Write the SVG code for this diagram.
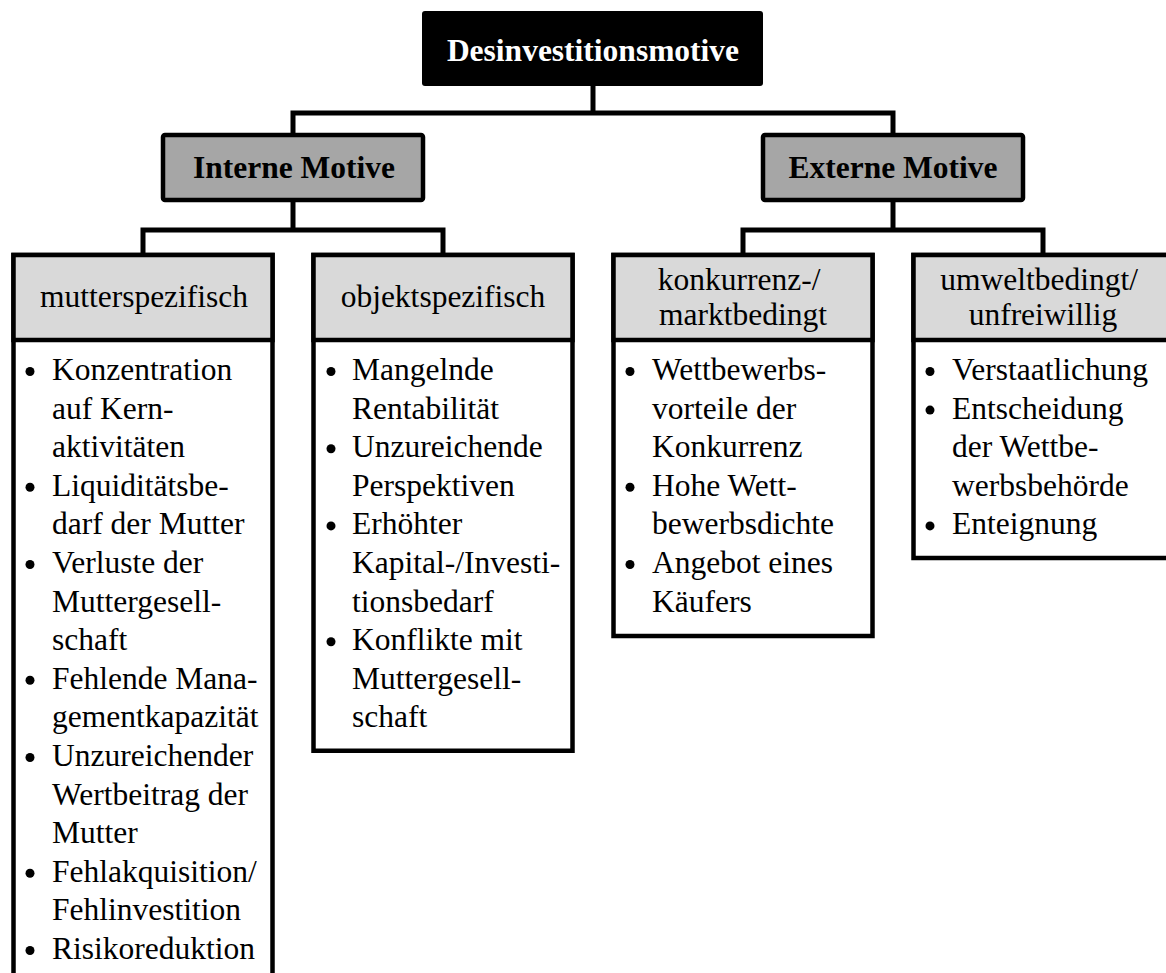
<svg xmlns="http://www.w3.org/2000/svg" width="1166" height="973" viewBox="0 0 1166 973">
  <style>
    .edge { fill: none; stroke: #000; stroke-width: 5; stroke-linejoin: miter; }
    .root { fill: #000; }
    .mid { fill: #a6a6a6; stroke: #000; stroke-width: 4.5; }
    .head { fill: #d9d9d9; stroke: #000; stroke-width: 4.5; }
    .body { fill: #fff; stroke: #000; stroke-width: 4.5; }
    .bold { font-family: "Liberation Serif", "Times New Roman", serif; font-weight: bold; font-size: 31.5px; text-anchor: middle; }
    .txt { font-family: "Liberation Serif", "Times New Roman", serif; font-size: 31.5px; fill: #000; }
    .ctr { text-anchor: middle; }
    .dot { fill: #000; }
  </style>
  <rect width="1166" height="973" fill="#fff"/>

  <!-- connectors -->
  <g id="connectors">
    <path class="edge" d="M593 86 V113"/>
    <path class="edge" d="M293 133 V113 H893 V133"/>
    <path class="edge" d="M293 202 V230"/>
    <path class="edge" d="M143 253 V230 H443 V253"/>
    <path class="edge" d="M893 202 V230"/>
    <path class="edge" d="M743 253 V230 H1043 V253"/>
  </g>

  <!-- root -->
  <g id="node-root">
    <rect class="root" x="422" y="11" width="341" height="75" rx="3"/>
    <text class="bold" x="593" y="61" fill="#fff">Desinvestitionsmotive</text>
  </g>

  <!-- second level -->
  <g id="node-intern">
    <rect class="mid" x="163" y="135" width="260" height="65" rx="2"/>
    <text class="bold" x="294" y="178" fill="#000">Interne Motive</text>
  </g>
  <g id="node-extern">
    <rect class="mid" x="763" y="135" width="260" height="65" rx="2"/>
    <text class="bold" x="893" y="178" fill="#000">Externe Motive</text>
  </g>

  <!-- mutterspezifisch -->
  <g id="node-mutter">
    <rect class="body" x="13.5" y="255" width="259" height="760"/>
    <rect class="head" x="13.5" y="255" width="259" height="85"/>
    <text class="txt ctr" x="144" y="307">mutterspezifisch</text>
    <g class="dot">
      <circle cx="30" cy="371.5" r="4.5"/>
      <circle cx="30" cy="487.3" r="4.5"/>
      <circle cx="30" cy="564.5" r="4.5"/>
      <circle cx="30" cy="680.3" r="4.5"/>
      <circle cx="30" cy="757.5" r="4.5"/>
      <circle cx="30" cy="873.3" r="4.5"/>
      <circle cx="30" cy="950.5" r="4.5"/>
    </g>
    <text class="txt">
      <tspan x="52" y="380">Konzentration</tspan>
      <tspan x="52" y="418.6">auf Kern-</tspan>
      <tspan x="52" y="457.2">aktivitäten</tspan>
      <tspan x="52" y="495.8">Liquiditätsbe-</tspan>
      <tspan x="52" y="534.4">darf der Mutter</tspan>
      <tspan x="52" y="573">Verluste der</tspan>
      <tspan x="52" y="611.6">Muttergesell-</tspan>
      <tspan x="52" y="650.2">schaft</tspan>
      <tspan x="52" y="688.8">Fehlende Mana-</tspan>
      <tspan x="52" y="727.4">gementkapazität</tspan>
      <tspan x="52" y="766">Unzureichender</tspan>
      <tspan x="52" y="804.6">Wertbeitrag der</tspan>
      <tspan x="52" y="843.2">Mutter</tspan>
      <tspan x="52" y="881.8">Fehlakquisition/</tspan>
      <tspan x="52" y="920.4">Fehlinvestition</tspan>
      <tspan x="52" y="959">Risikoreduktion</tspan>
    </text>
  </g>

  <!-- objektspezifisch -->
  <g id="node-objekt">
    <rect class="body" x="313.5" y="255" width="259" height="495.75"/>
    <rect class="head" x="313.5" y="255" width="259" height="85"/>
    <text class="txt ctr" x="443" y="307">objektspezifisch</text>
    <g class="dot">
      <circle cx="331" cy="371.5" r="4.5"/>
      <circle cx="331" cy="448.7" r="4.5"/>
      <circle cx="331" cy="525.9" r="4.5"/>
      <circle cx="331" cy="641.7" r="4.5"/>
    </g>
    <text class="txt">
      <tspan x="352" y="380">Mangelnde</tspan>
      <tspan x="352" y="418.6">Rentabilität</tspan>
      <tspan x="352" y="457.2">Unzureichende</tspan>
      <tspan x="352" y="495.8">Perspektiven</tspan>
      <tspan x="352" y="534.4">Erhöhter</tspan>
      <tspan x="352" y="573">Kapital-/Investi-</tspan>
      <tspan x="352" y="611.6">tionsbedarf</tspan>
      <tspan x="352" y="650.2">Konflikte mit</tspan>
      <tspan x="352" y="688.8">Muttergesell-</tspan>
      <tspan x="352" y="727.4">schaft</tspan>
    </text>
  </g>

  <!-- konkurrenz-/marktbedingt -->
  <g id="node-markt">
    <rect class="body" x="613.5" y="255" width="259" height="381"/>
    <rect class="head" x="613.5" y="255" width="259" height="85"/>
    <text class="txt ctr">
      <tspan x="743" y="290">konkurrenz-/</tspan>
      <tspan x="743" y="325">marktbedingt</tspan>
    </text>
    <g class="dot">
      <circle cx="630" cy="371.5" r="4.5"/>
      <circle cx="630" cy="487.3" r="4.5"/>
      <circle cx="630" cy="564.5" r="4.5"/>
    </g>
    <text class="txt">
      <tspan x="652" y="380">Wettbewerbs-</tspan>
      <tspan x="652" y="418.6">vorteile der</tspan>
      <tspan x="652" y="457.2">Konkurrenz</tspan>
      <tspan x="652" y="495.8">Hohe Wett-</tspan>
      <tspan x="652" y="534.4">bewerbsdichte</tspan>
      <tspan x="652" y="573">Angebot eines</tspan>
      <tspan x="652" y="611.6">Käufers</tspan>
    </text>
  </g>

  <!-- umweltbedingt/unfreiwillig -->
  <g id="node-umwelt">
    <rect class="body" x="913.5" y="255" width="259" height="303"/>
    <rect class="head" x="913.5" y="255" width="259" height="85"/>
    <text class="txt ctr">
      <tspan x="1043" y="290">umweltbedingt/</tspan>
      <tspan x="1043" y="325">unfreiwillig</tspan>
    </text>
    <g class="dot">
      <circle cx="930" cy="371.5" r="4.5"/>
      <circle cx="930" cy="410.1" r="4.5"/>
      <circle cx="930" cy="525.9" r="4.5"/>
    </g>
    <text class="txt">
      <tspan x="952" y="380">Verstaatlichung</tspan>
      <tspan x="952" y="418.6">Entscheidung</tspan>
      <tspan x="952" y="457.2">der Wettbe-</tspan>
      <tspan x="952" y="495.8">werbsbehörde</tspan>
      <tspan x="952" y="534.4">Enteignung</tspan>
    </text>
  </g>
</svg>
